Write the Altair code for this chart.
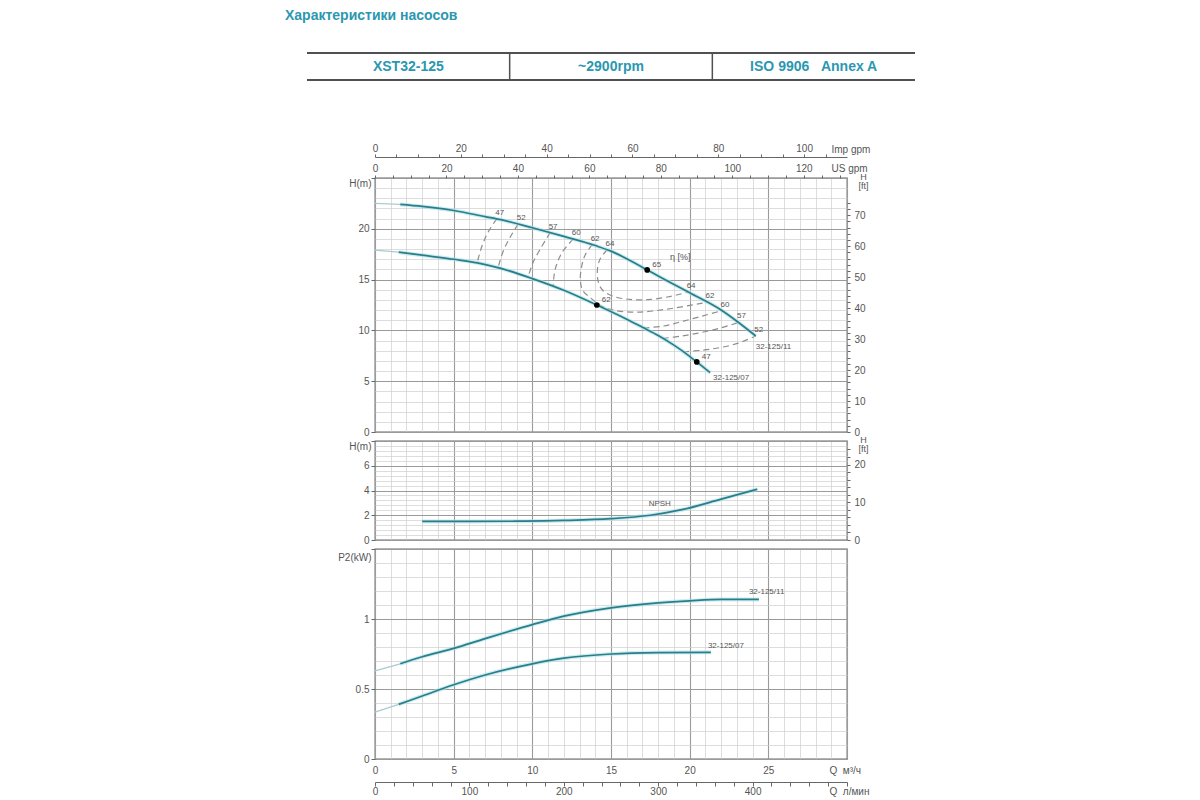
import altair as alt
import pandas as pd

# ---------------------------------------------------------------------
# Values (flow Q in m3/h)
# ---------------------------------------------------------------------
PAGE_TITLE = 'Характеристики насосов'
HEADER_CELLS = ['XST32-125', '~2900rpm', 'ISO 9906\u00a0\u00a0\u00a0Annex A']

# H(Q) curves
Q_H11 = [0, 1.6, 3, 5, 7, 8, 10, 12, 14, 15, 16, 17.3, 18, 20, 22, 23, 24.2]
H_H11 = [22.5, 22.4, 22.2, 21.8, 21.2, 20.9, 20.1, 19.25, 18.35, 17.8, 17.05,
         15.95, 15.35, 13.7, 12.0, 10.9, 9.45]
Q_H07 = [0, 1.5, 3, 5, 6.5, 8, 10, 12, 14.1, 16, 17, 18, 19, 20, 20.45, 21.3]
H_H07 = [17.9, 17.7, 17.4, 17.0, 16.65, 16.1, 15.1, 13.95, 12.5, 11.1, 10.3,
         9.5, 8.55, 7.45, 6.9, 5.85]
START_11 = 1.6   # curves are pale left of this flow
START_07 = 1.5

# iso-efficiency lines
EFF_NAMES = ['47', '52', '57', '60', '62', '64', '60', '57', '52']
EFF_LABEL_AT = ['start', 'start', 'start', 'start', 'both', 'both', 'end', 'end', 'end']
EFF_Q = [
    [7.74, 7.2, 6.8, 6.49],
    [9.1, 8.6, 8.15, 7.82],
    [11.13, 10.5, 10.05, 9.73],
    [12.6, 11.9, 11.45, 11.32],
    [13.8, 13.35, 13.15, 13.05, 13.2, 13.7, 14.4, 15.2, 16.7, 18.6, 21.1],
    [14.75, 14.3, 14.14, 14.2, 14.5, 15.16, 16.2, 17.5, 18.8, 19.9],
    [17.07, 18.34, 19.61, 20.9, 22.05],
    [18.3, 19.5, 20.7, 22.0, 23.1],
    [19.6, 20.8, 21.9, 23.1, 24.2],
]
EFF_H = [
    [20.98, 19.7, 18.3, 16.65],
    [20.46, 19.2, 17.8, 16.17],
    [19.62, 18.0, 16.7, 15.24],
    [18.98, 17.7, 16.0, 14.34],
    [18.44, 17.4, 16.4, 15.0, 13.95, 13.2, 12.4, 11.98, 11.8, 12.1, 12.77],
    [17.94, 17.0, 16.04, 14.72, 13.9, 13.35, 13.05, 13.05, 13.35, 13.78],
    [10.24, 10.43, 10.92, 11.45, 11.95],
    [9.21, 9.45, 9.78, 10.25, 10.78],
    [7.89, 8.05, 8.3, 8.75, 9.45],
]

# marked duty points
DOT_Q = [17.3, 14.1, 20.45]
DOT_H = [15.95, 12.5, 6.9]
DOT_TXT = ['65', '62', '47']
ETA_Q, ETA_H = 19.4, 17.2

# NPSH
Q_NPSH = [3.0, 6, 9, 12, 15, 17.5, 19.5, 22, 24.3]
NPSH = [1.5, 1.5, 1.52, 1.58, 1.72, 2.0, 2.45, 3.3, 4.1]
NPSH_LBL_Q, NPSH_LBL_H = 18.1, 2.9

# P2 power
Q_P11 = [0, 1.6, 3, 5, 7, 10, 12, 15, 18, 20, 22, 24.4]
P_P11 = [0.63, 0.68, 0.73, 0.79, 0.86, 0.96, 1.02, 1.08, 1.115, 1.13, 1.14, 1.14]
Q_P07 = [0, 1.5, 3, 5, 7, 10, 12, 15, 18, 21.35]
P_P07 = [0.335, 0.39, 0.45, 0.53, 0.6, 0.68, 0.72, 0.75, 0.76, 0.762]

NAME_11 = '32-125/11'
NAME_07 = '32-125/07'

# ---------------------------------------------------------------------
# Styling / unit conversion
# ---------------------------------------------------------------------
FONT = 'Liberation Sans'
TEAL = '#2c7d89'
GLOW = '#a6e3ea'
PALE = '#a9ccd1'
DASH = '#8e8e8e'
GRID_MINOR = '#cfcfcf'
GRID_MAJOR = '#9a9a9a'
FRAME = '#676767'
TXT = '#555555'
HEAD_COLOR = '#2b97b0'
NB = '\u00a0'

W = 472
Q_MAX = 30
H_MAX, NPSH_MAX, P_MAX = 25, 8, 1.5
M_TO_FT = 3.28084
TO_USGPM = 4.40287
TO_IMPGPM = 3.66615
TO_LMIN = 1000 / 60


def major(step):
    return f"abs(datum.value / {step} - round(datum.value / {step})) < 0.001"


def cond(step, on, off):
    return {'condition': {'test': major(step), 'value': on}, 'value': off}


def only_major(step, extra=''):
    return f"({major(step)}){extra} ? datum.label : ''"


def steps(step, top):
    n = int(round(top / step))
    return [round(i * step, 3) for i in range(n + 1)]


def qx(axis=None):
    return alt.X('Q:Q', title=None, axis=axis,
                 scale=alt.Scale(domain=[0, Q_MAX], nice=False, zero=False))


def vy(top, axis=None):
    return alt.Y('V:Q', title=None, axis=axis,
                 scale=alt.Scale(domain=[0, top], nice=False, zero=False))


def curve_frames(items):
    dark, pale = [], []
    for name, q, v, start in items:
        df = pd.DataFrame({'Q': q, 'V': v, 'curve': name})
        dark.append(df[df.Q >= start])
        pale.append(df[df.Q <= start])
    return pd.concat(dark), pd.concat(pale)


def grid_layers(df, top, x_axis, y_axis):
    # invisible carrier marks for the grid / tick axes of a panel
    return [alt.Chart(df).mark_point(opacity=0).encode(x=qx(x_axis), y=vy(top)),
            alt.Chart(df).mark_point(opacity=0).encode(x=qx(), y=vy(top, y_axis))]


def curve_layers(dark, pale, top):
    layers = [
        alt.Chart(dark).mark_line(color=GLOW, strokeWidth=4, opacity=0.6,
                                  interpolate='monotone').encode(
            x=qx(), y=vy(top), detail='curve:N'),
        alt.Chart(dark).mark_line(color=TEAL, strokeWidth=1.7,
                                  interpolate='monotone').encode(
            x=qx(), y=vy(top), detail='curve:N'),
    ]
    if len(pale):
        layers.append(alt.Chart(pale).mark_line(color=PALE, strokeWidth=1.4).encode(
            x=qx(), y=vy(top), detail='curve:N'))
    return layers


def end_label(df, name, top, dx, dy):
    last = df[df.curve == name].sort_values('Q').tail(1)
    return alt.Chart(last).mark_text(align='left', baseline='middle', dx=dx, dy=dy,
                                     fontSize=8, color=TXT).encode(
        x=qx(), y=vy(top), text='curve:N')


def point_text(q, v, txt, top, size=8):
    return alt.Chart(pd.DataFrame({'Q': [q], 'V': [v], 'txt': [txt]})).mark_text(
        fontSize=size, color=TXT).encode(x=qx(), y=vy(top), text='txt:N')


q_grid_axis = alt.Axis(values=steps(1, Q_MAX), grid=True,
                       gridColor=cond(5, GRID_MAJOR, GRID_MINOR),
                       gridWidth=cond(5, 1.1, 0.7),
                       labels=False, ticks=False, domain=False)


def left_axis(step, major_step, top, title, title_y):
    return alt.Axis(values=steps(step, top), grid=True, format='~g',
                    gridColor=cond(major_step, GRID_MAJOR, GRID_MINOR),
                    gridWidth=cond(major_step, 1.1, 0.7),
                    labelExpr=only_major(major_step, f' && datum.value < {top - step / 2}'),
                    labelOverlap=False, tickSize=cond(major_step, 4, 0), tickColor=FRAME,
                    labelPadding=2, domain=False, title=title, titleAngle=0,
                    titleAlign='right', titleBaseline='middle', titleX=-4, titleY=title_y)


def ft_layer(df, top_m, last_label):
    top_ft = top_m * M_TO_FT
    axis = alt.Axis(orient='right', values=steps(2, last_label + 4),
                    labelExpr=only_major(10, f' && datum.value <= {last_label}'),
                    labelOverlap=False, tickSize=3, tickColor=FRAME, labelPadding=4,
                    domain=False, grid=False, title=['H', '[ft]'], titleAngle=0,
                    titleAlign='center', titleBaseline='top', titleX=16, titleY=-6,
                    titleFontSize=9, titleLineHeight=9)
    return alt.Chart(df).transform_calculate(ft=f'datum.V * {M_TO_FT}').mark_point(
        opacity=0).encode(
        x=qx(),
        y=alt.Y('ft:Q', title=None, axis=axis,
                scale=alt.Scale(domain=[0, top_ft], nice=False, zero=False)))


def flow_layer(df, factor, field, axis, top):
    return alt.Chart(df).transform_calculate(**{field: f'datum.Q * {factor}'}).mark_point(
        opacity=0).encode(
        x=alt.X(f'{field}:Q', title=None, axis=axis,
                scale=alt.Scale(domain=[0, Q_MAX * factor], nice=False, zero=False)),
        y=vy(top))


def panel(layers, height):
    return alt.layer(*layers).resolve_scale(
        x='independent', y='independent').properties(width=W, height=height)


# ---------------------------------------------------------------------
# Panel 1: H(Q) with efficiency lines
# ---------------------------------------------------------------------
h_dark, h_pale = curve_frames([(NAME_11, Q_H11, H_H11, START_11),
                               (NAME_07, Q_H07, H_H07, START_07)])

eff_rows, lbl_rows = [], []
for k, (name, qs, hs, at) in enumerate(zip(EFF_NAMES, EFF_Q, EFF_H, EFF_LABEL_AT)):
    for i, (q, h) in enumerate(zip(qs, hs)):
        eff_rows.append({'line': k, 'i': i, 'Q': q, 'V': h})
    if at in ('start', 'both'):
        lbl_rows.append({'Q': qs[0], 'V': hs[0], 'txt': name})
    if at in ('end', 'both'):
        lbl_rows.append({'Q': qs[-1], 'V': hs[-1], 'txt': name})
eff_df = pd.DataFrame(eff_rows)
eff_lbl = pd.DataFrame(lbl_rows)
dots = pd.DataFrame({'Q': DOT_Q, 'V': DOT_H, 'txt': DOT_TXT})

us_axis = alt.Axis(orient='top', values=steps(5, 130), labelExpr=only_major(20),
                   labelOverlap=False, labelFlush=False, tickSize=3, tickColor=FRAME,
                   labelPadding=2, domain=False, grid=False, title=f'US{NB}gpm',
                   titleAngle=0, titleAlign='left', titleBaseline='middle',
                   titleX=456, titleY=-10)
imp_axis = alt.Axis(orient='top', offset=21, values=steps(5, 105), labelExpr=only_major(20),
                    labelOverlap=False, labelFlush=False, tickSize=3, tickColor=FRAME,
                    labelPadding=1, domain=True, domainColor=FRAME, grid=False,
                    title=f'Imp{NB}gpm', titleAngle=0, titleAlign='left',
                    titleBaseline='middle', titleX=456, titleY=-8)

h_layers = grid_layers(h_dark, H_MAX, q_grid_axis, left_axis(1, 5, H_MAX, 'H(m)', 5))
h_layers += [
    alt.Chart(eff_df).mark_line(color=DASH, strokeWidth=1.2, strokeDash=[6, 4],
                                interpolate='catmull-rom').encode(
        x=qx(), y=vy(H_MAX), detail='line:N', order='i:Q'),
]
h_layers += curve_layers(h_dark, h_pale, H_MAX)
h_layers += [
    alt.Chart(eff_lbl).mark_text(fontSize=8, color=TXT, dx=3, dy=-6).encode(
        x=qx(), y=vy(H_MAX), text='txt:N'),
    alt.Chart(dots).mark_circle(size=32, color='black', opacity=1).encode(
        x=qx(), y=vy(H_MAX)),
    alt.Chart(dots).mark_text(fontSize=8, color=TXT, align='left', dx=5, dy=-5).encode(
        x=qx(), y=vy(H_MAX), text='txt:N'),
    point_text(ETA_Q, ETA_H, 'η [%]', H_MAX, size=9),
    end_label(h_dark, NAME_11, H_MAX, 0, 11),
    end_label(h_dark, NAME_07, H_MAX, 3, 5),
    ft_layer(h_dark, H_MAX, 70),
    flow_layer(h_dark, TO_USGPM, 'us', us_axis, H_MAX),
    flow_layer(h_dark, TO_IMPGPM, 'imp', imp_axis, H_MAX),
]
panel_h = panel(h_layers, 254)

# ---------------------------------------------------------------------
# Panel 2: NPSH
# ---------------------------------------------------------------------
n_dark = pd.DataFrame({'Q': Q_NPSH, 'V': NPSH, 'curve': 'NPSH'})
n_layers = grid_layers(n_dark, NPSH_MAX, q_grid_axis, left_axis(0.4, 2, NPSH_MAX, 'H(m)', 5))
n_layers += curve_layers(n_dark, n_dark.iloc[0:0], NPSH_MAX)
n_layers += [point_text(NPSH_LBL_Q, NPSH_LBL_H, 'NPSH', NPSH_MAX),
             ft_layer(n_dark, NPSH_MAX, 20)]
panel_n = panel(n_layers, 99)

# ---------------------------------------------------------------------
# Panel 3: P2 power, with the two flow axes at the bottom
# ---------------------------------------------------------------------
p_dark, p_pale = curve_frames([(NAME_11, Q_P11, P_P11, START_11),
                               (NAME_07, Q_P07, P_P07, START_07)])

q_axis = alt.Axis(values=steps(1, Q_MAX), grid=True,
                  gridColor=cond(5, GRID_MAJOR, GRID_MINOR), gridWidth=cond(5, 1.1, 0.7),
                  labelExpr=only_major(5, ' && datum.value < 30'), labelOverlap=False,
                  labelFlush=False, ticks=False, tickSize=0, labelPadding=6, domain=False,
                  title=f'Q{NB}{NB}м³/ч', titleAngle=0, titleAlign='left',
                  titleBaseline='middle', titleX=454, titleY=11)
lmin_axis = alt.Axis(orient='bottom', offset=23, values=steps(20, 500),
                     labelExpr=only_major(100, ' && datum.value < 500'), labelOverlap=False,
                     labelFlush=False, tickSize=4, tickColor=FRAME, labelPadding=0,
                     domain=True, domainColor=FRAME, grid=False, title=f'Q{NB}{NB}л/мин',
                     titleAngle=0, titleAlign='left', titleBaseline='middle',
                     titleX=454, titleY=9)

p_layers = grid_layers(p_dark, P_MAX, q_axis, left_axis(0.1, 0.5, P_MAX, 'P2(kW)', 8))
p_layers += curve_layers(p_dark, p_pale, P_MAX)
p_layers += [end_label(p_dark, NAME_11, P_MAX, -10, -7),
             end_label(p_dark, NAME_07, P_MAX, -3, -6),
             flow_layer(p_dark, TO_LMIN, 'lmin', lmin_axis, P_MAX)]
panel_p = panel(p_layers, 210)

# ---------------------------------------------------------------------
# Heading: page title and the model / speed / standard table
# ---------------------------------------------------------------------
col_x = alt.Scale(domain=[0, len(HEADER_CELLS)], range=[-68, 540])
row_y = alt.Scale(domain=[0, 1], range=[72, 45])
cells = pd.DataFrame({'cell': HEADER_CELLS, 'idx': range(len(HEADER_CELLS))})
borders = pd.DataFrame({'yb': [0, 1]})
dividers = pd.DataFrame({'xd': list(range(1, len(HEADER_CELLS)))})

header = alt.layer(
    alt.Chart(pd.DataFrame({'t': [PAGE_TITLE]})).mark_text(
        align='left', baseline='middle', fontSize=14, fontWeight='bold',
        color=HEAD_COLOR).encode(x=alt.value(-90), y=alt.value(8), text='t:N'),
    alt.Chart(borders).mark_rule(color='#505050', strokeWidth=2).encode(
        x=alt.X('x0:Q', scale=col_x, axis=None), x2='x1:Q',
        y=alt.Y('yb:Q', scale=row_y, axis=None)).transform_calculate(
        x0='0', x1=str(len(HEADER_CELLS))),
    alt.Chart(dividers).mark_rule(color='#505050', strokeWidth=1.5).encode(
        x=alt.X('xd:Q', scale=col_x, axis=None),
        y=alt.Y('y0:Q', scale=row_y, axis=None), y2='y1:Q').transform_calculate(
        y0='0', y1='1'),
    alt.Chart(cells).transform_calculate(mid='datum.idx + 0.5', ym='0.5').mark_text(
        fontSize=14, fontWeight='bold', color=HEAD_COLOR, baseline='middle').encode(
        x=alt.X('mid:Q', scale=col_x, axis=None),
        y=alt.Y('ym:Q', scale=row_y, axis=None), text='cell:N'),
).properties(width=W, height=161, view=alt.ViewBackground(strokeOpacity=0))

chart = alt.vconcat(header, panel_h, panel_n, panel_p, spacing=9, bounds='flush').properties(
    padding={'left': 277, 'top': 0, 'right': 10, 'bottom': 5}
).configure_view(
    stroke=FRAME, strokeWidth=1.3
).configure_axis(
    labelFont=FONT, titleFont=FONT, labelColor=TXT, titleColor=TXT,
    labelFontSize=10, titleFontSize=10, titleFontWeight='normal'
).configure_text(font=FONT)

chart.save('out.html', embed_options={'renderer': 'svg', 'actions': False})
